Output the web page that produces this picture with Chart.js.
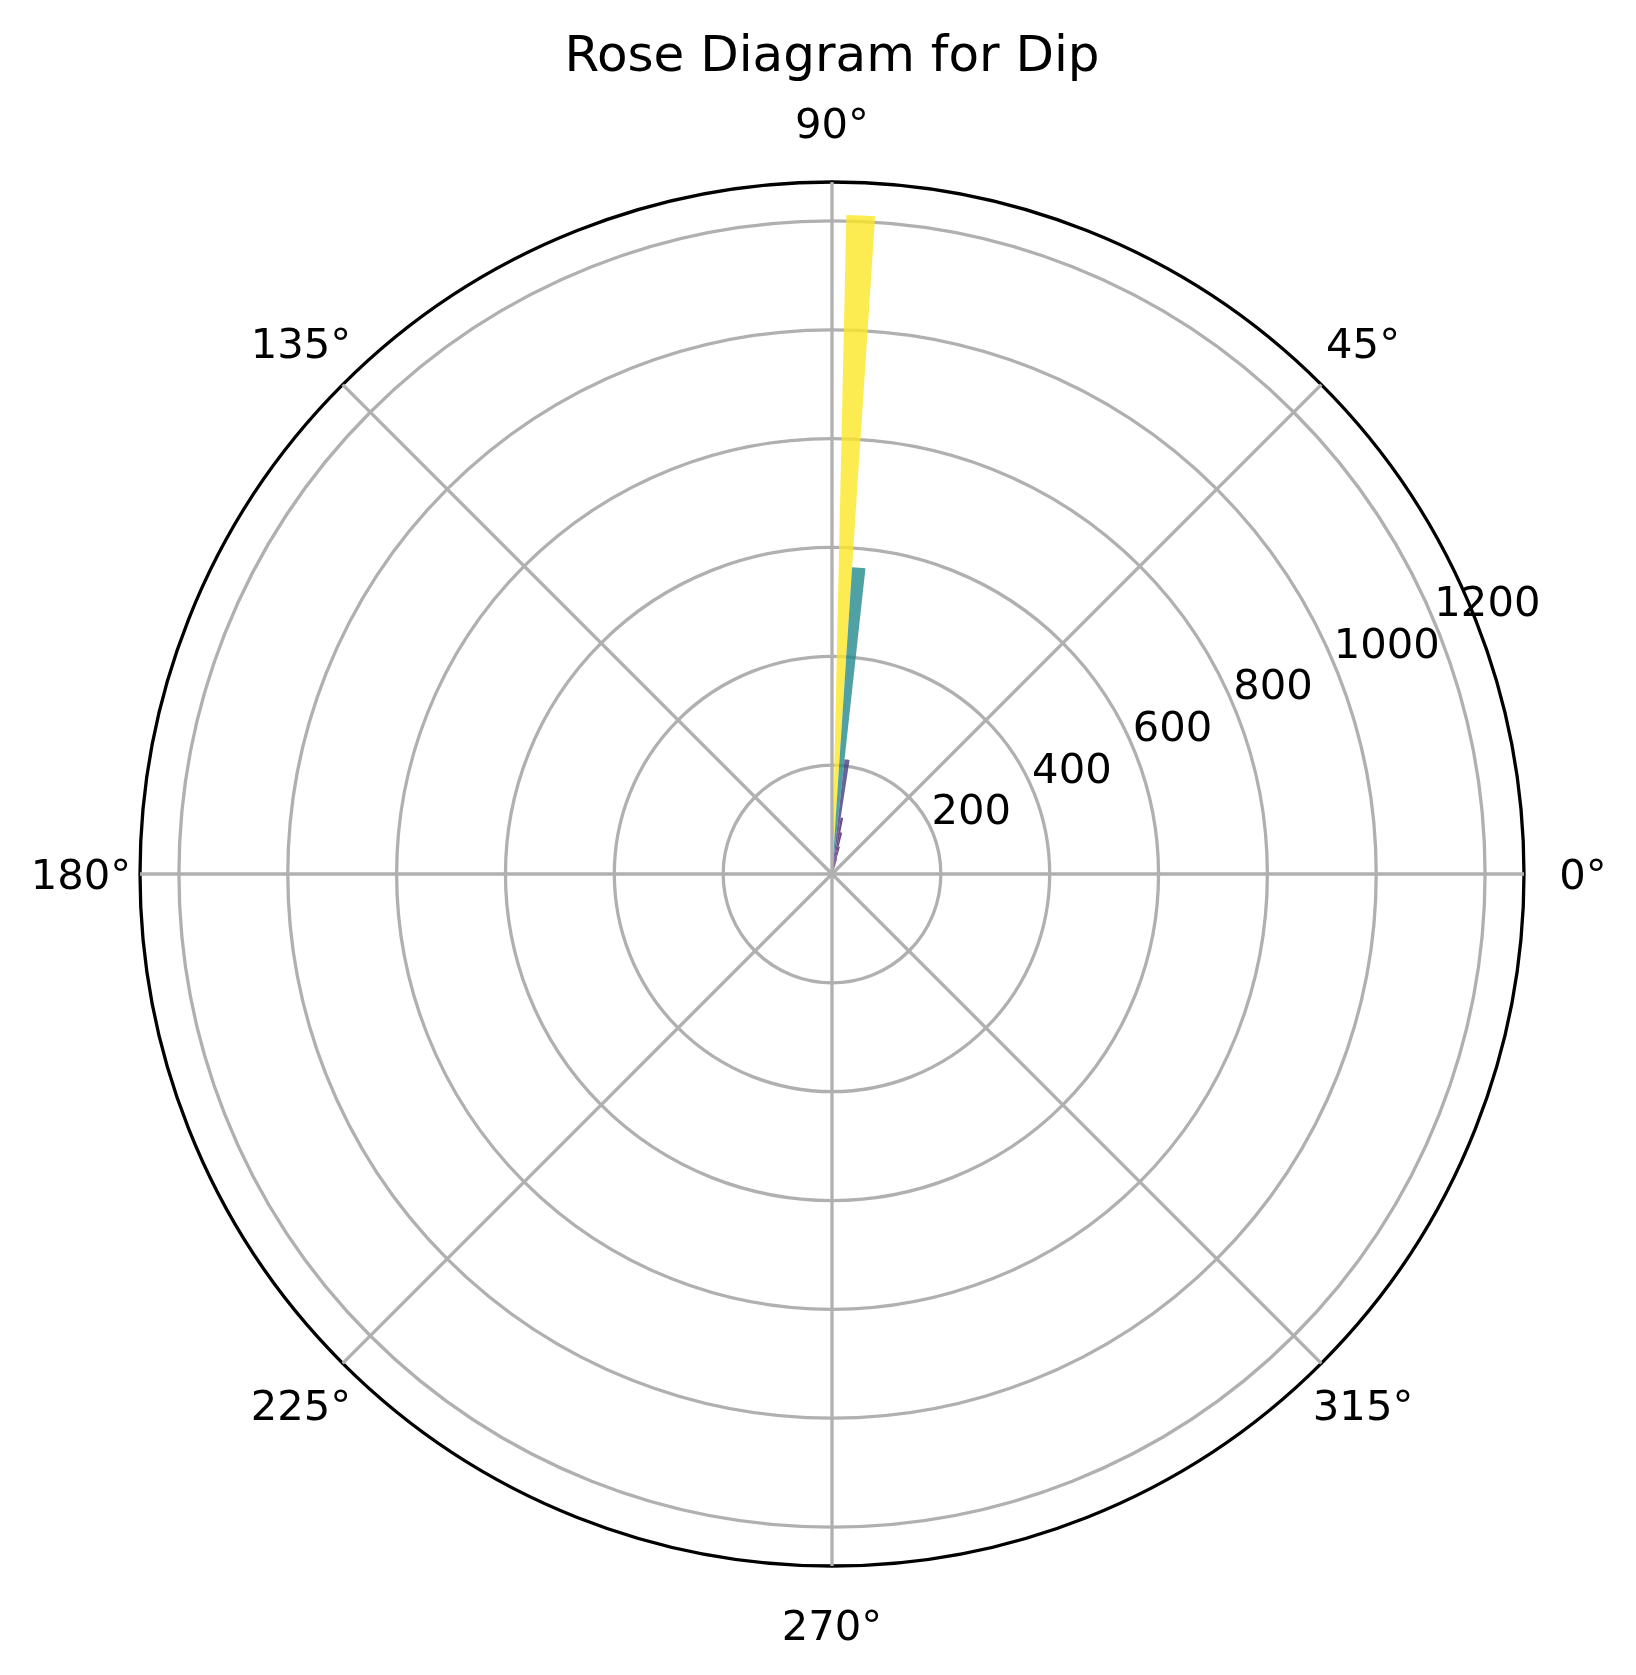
<!DOCTYPE html>
<html>
<head>
<meta charset="utf-8">
<script src="https://cdn.jsdelivr.net/npm/chart.js@4.4.1/dist/chart.umd.min.js"></script>
<style>
html, body { margin: 0; padding: 0; background: #ffffff; }
#wrap { width: 1636px; height: 1675px; }
</style>
</head>
<body>
<div id="wrap"><canvas id="c" width="1636" height="1675"></canvas></div>
<script>
// ---------------- data ----------------
const titleText = 'Rose Diagram for Dip';
// dip bins (degrees, bar centre = bin left edge as in the source plot), width 2.5°
const dipBins = [0, 2.5, 5, 7.5, 10, 12.5, 15, 17.5, 20, 22.5, 25, 27.5, 30, 32.5, 35, 37.5,
                 40, 42.5, 45, 47.5, 50, 52.5, 55, 57.5, 60, 62.5, 65, 67.5, 70, 72.5, 75, 77.5,
                 80, 82.5, 85, 87.5];
const dipCounts = [0, 0, 0, 0, 0, 0, 0, 0, 0, 0, 0, 0, 0, 0, 0, 0,
                   0, 0, 0, 0, 1, 1, 2, 2, 3, 4, 6, 10, 18, 30, 52, 78,
                   105, 212, 565, 1211];
const radialTicks = [200, 400, 600, 800, 1000, 1200];
const angleTicks = [0, 45, 90, 135, 180, 225, 270, 315];
const angleTickLabels = ['0°', '45°', '90°', '135°', '180°', '225°', '270°', '315°'];
const radialLabelAngle = 22.5;

// ---------------- build the full-circle table ----------------
const BIN_WIDTH = 2.5;
const SLOTS = Math.round(360 / BIN_WIDTH);
const topBin = dipBins[dipBins.length - 1];
// Chart.js angles: clockwise from 12 o'clock; matplotlib: counter-clockwise from 3 o'clock
const startAngle = 90 - (topBin + BIN_WIDTH / 2);
const slotLabels = [], slotValues = [];
for (let k = 0; k < SLOTS; k++) {
  const a = (((topBin - BIN_WIDTH * k) % 360) + 360) % 360;
  const idx = dipBins.indexOf(a);
  slotLabels.push(a + '°');
  slotValues.push(idx >= 0 ? dipCounts[idx] : 0);
}
const maxCount = Math.max(...dipCounts);
const rMax = maxCount * 1.05;

// viridis colormap
const VIRIDIS = [[68,1,84],[72,36,117],[65,68,135],[53,95,141],[42,120,142],[33,145,140],
                 [34,168,132],[68,191,112],[122,209,81],[189,223,38],[253,231,37]];
function viridis(t, alpha) {
  t = Math.max(0, Math.min(1, t));
  const p = t * (VIRIDIS.length - 1);
  const i = Math.min(Math.floor(p), VIRIDIS.length - 2);
  const f = p - i;
  const c = VIRIDIS[i].map((v, j) => Math.round(v + (VIRIDIS[i + 1][j] - v) * f));
  return `rgba(${c[0]},${c[1]},${c[2]},${alpha})`;
}
const slotColors = slotValues.map(v => viridis(v / maxCount, 0.8));

const FONT = "'DejaVu Sans', 'Liberation Sans', sans-serif";

const polarDecor = {
  id: 'polarDecor',
  afterDraw(chart) {
    const s = chart.scales.r;
    const ctx = chart.ctx;
    const cx = s.xCenter, cy = s.yCenter, R = s.drawingArea;
    ctx.save();
    // angular grid lines
    ctx.strokeStyle = '#b0b0b0';
    ctx.lineWidth = 3.3;
    angleTicks.forEach(a => {
      const t = a * Math.PI / 180;
      ctx.beginPath();
      ctx.moveTo(cx, cy);
      ctx.lineTo(cx + R * Math.cos(t), cy - R * Math.sin(t));
      ctx.stroke();
    });
    // angular tick labels
    ctx.fillStyle = '#000000';
    ctx.font = `41.7px ${FONT}`;
    ctx.textAlign = 'center';
    ctx.textBaseline = 'alphabetic';
    angleTicks.forEach((a, i) => {
      const t = a * Math.PI / 180;
      const rr = R + 59;
      ctx.fillText(angleTickLabels[i], cx + rr * Math.cos(t), cy - rr * Math.sin(t) + 15.2);
    });
    // radial tick labels
    ctx.textAlign = 'left';
    const lt = radialLabelAngle * Math.PI / 180;
    radialTicks.forEach(v => {
      const r = s.getDistanceFromCenterForValue(v);
      ctx.fillText(String(v), cx + r * Math.cos(lt) - 1, cy - r * Math.sin(lt) - 8);
    });
    // title
    ctx.font = `50px ${FONT}`;
    ctx.textAlign = 'center';
    ctx.fillText(titleText, cx, 70.5);
    ctx.restore();
  }
};

new Chart(document.getElementById('c'), {
  type: 'polarArea',
  data: {
    labels: slotLabels,
    datasets: [{
      label: 'Dip',
      data: slotValues,
      backgroundColor: slotColors,
      borderWidth: 0
    }]
  },
  options: {
    responsive: false,
    devicePixelRatio: 1,
    animation: false,
    layout: { padding: { left: 140, right: 112, top: 182, bottom: 109 } },
    plugins: {
      legend: { display: false },
      title: { display: false },
      tooltip: { enabled: false }
    },
    scales: {
      r: {
        type: 'radialLinear',
        min: 0,
        max: rMax,
        startAngle: startAngle,
        z: 1,
        afterBuildTicks: sc => { sc.ticks = [0, ...radialTicks, rMax].map(v => ({ value: v })); },
        ticks: { display: false },
        grid: {
          circular: true,
          color: c => (c.tick && Math.abs(c.tick.value - rMax) < 1e-6) ? '#000000' : '#b0b0b0',
          lineWidth: 3.3
        },
        angleLines: { display: false },
        pointLabels: { display: false }
      }
    }
  },
  plugins: [polarDecor]
});
</script>
</body>
</html>
